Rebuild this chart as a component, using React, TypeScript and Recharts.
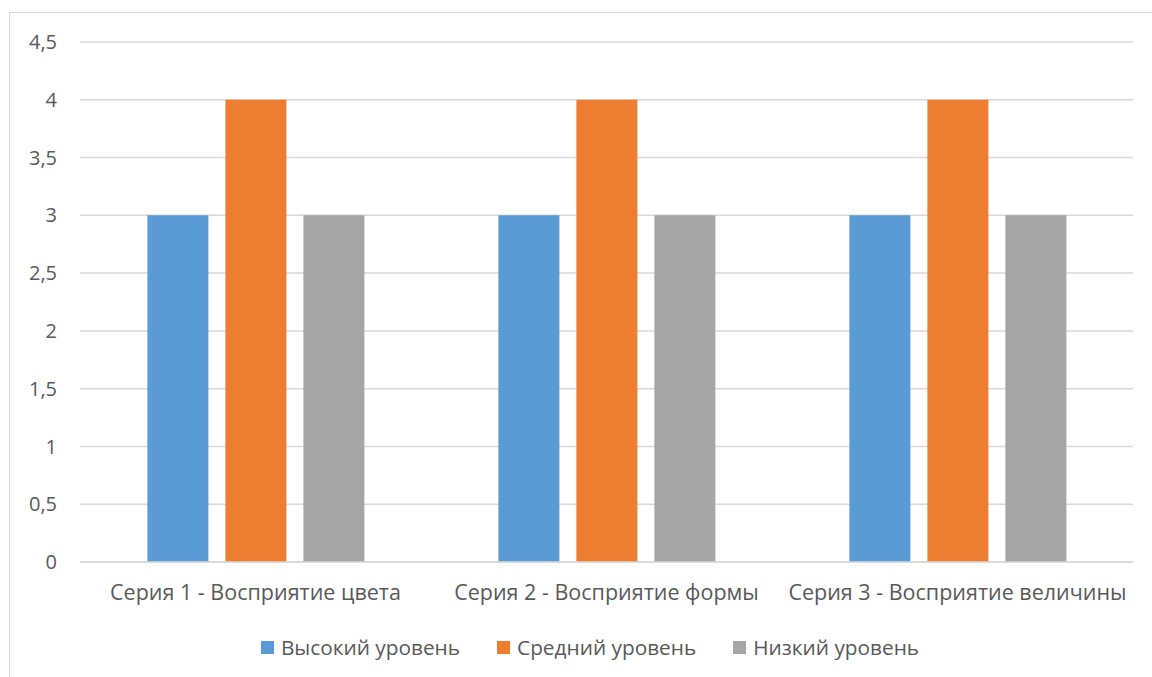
import { BarChart, Bar, XAxis, YAxis, CartesianGrid, Legend } from 'recharts';

const categories = [
  'Серия 1 - Восприятие цвета',
  'Серия 2 - Восприятие формы',
  'Серия 3 - Восприятие величины',
];
const high = [3, 3, 3];
const medium = [4, 4, 4];
const low = [3, 3, 3];
const yTicks = [0, 0.5, 1, 1.5, 2, 2.5, 3, 3.5, 4, 4.5];

const seriesInfo = [
  { key: 'high', name: 'Высокий уровень', color: '#5B9BD5' },
  { key: 'medium', name: 'Средний уровень', color: '#ED7D31' },
  { key: 'low', name: 'Низкий уровень', color: '#A5A5A5' },
];

const data = categories.map((c, i) => ({ name: c, high: high[i], medium: medium[i], low: low[i] }));

const FONT = '"Open Sans", sans-serif';
const TEXT = '#595959';

// keep legend in series order (recharts sorts it by name otherwise)
function LegendBox({ payload }: any) {
  const order = (p: any) => seriesInfo.findIndex(s => s.key === p.dataKey);
  const items = [...(payload || [])].sort((a, b) => order(a) - order(b));
  return (
    <div style={{ display: 'flex', justifyContent: 'center', alignItems: 'center', height: 30, paddingLeft: 18 }}>
      {items.map((p: any, i: number) => (
        <div key={i} style={{ display: 'flex', alignItems: 'center', marginLeft: i ? 37 : 0 }}>
          <span style={{ width: 13, height: 13, background: p.color, display: 'inline-block', marginRight: 7 }} />
          <span style={{ fontFamily: FONT, fontSize: 20.8, color: TEXT, whiteSpace: 'nowrap' }}>{p.value}</span>
        </div>
      ))}
    </div>
  );
}

export default function App() {
  return (
    <div
      style={{
        position: 'absolute', left: 9, top: 12, width: 1142, height: 664,
        borderTop: '1px solid #d9d9d9', borderLeft: '1px solid #d9d9d9', background: '#fff',
      }}
    >
      <BarChart
        width={1142}
        height={664}
        data={data}
        margin={{ top: 29, right: 19, left: 0, bottom: 45 }}
        barCategoryGap="19.2%"
        barGap={17}
      >
        <CartesianGrid vertical={false} stroke="#d9d9d9" strokeWidth={1.5} />
        <XAxis
          dataKey="name"
          height={40}
          axisLine={{ stroke: '#d9d9d9', strokeWidth: 1.5 }}
          tickLine={false}
          tickMargin={17}
          tick={{ fill: TEXT, fontSize: 21.5, fontFamily: FONT }}
        />
        <YAxis
          width={70}
          domain={[0, 4.5]}
          ticks={yTicks}
          axisLine={false}
          tickLine={false}
          tickMargin={17}
          tickFormatter={(v: number) => String(v).replace('.', ',')}
          tick={{ fill: TEXT, fontSize: 20, fontFamily: FONT }}
        />
        <Legend content={<LegendBox />} wrapperStyle={{ top: 619, bottom: 'auto', left: 0, width: 1142 }} />
        {seriesInfo.map(s => (
          <Bar key={s.key} dataKey={s.key} name={s.name} fill={s.color} isAnimationActive={false} />
        ))}
      </BarChart>
    </div>
  );
}
